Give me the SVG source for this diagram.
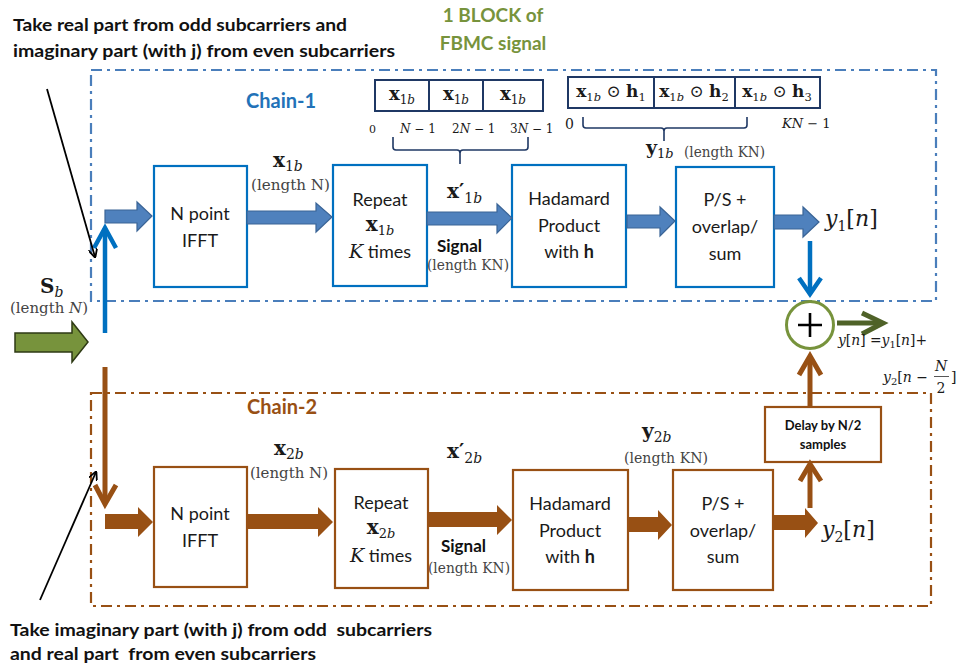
<svg xmlns="http://www.w3.org/2000/svg" width="961" height="669" viewBox="0 0 961 669">
  <style>
    .sans { font-family: Lato, "Open Sans", "Liberation Sans", sans-serif; }
    .lbl { font-family: Lato, "Open Sans", "Liberation Sans", sans-serif; font-size: 18px; fill: #1a1a1a; text-anchor: middle; }
    .note { font-family: Lato, "Open Sans", "Liberation Sans", sans-serif; font-size: 17px; font-weight: bold; fill: #111; white-space: pre; }
    .m { font-family: "DejaVu Serif", "Liberation Serif", serif; fill: #1a1a1a; }
    .mb { font-family: "DejaVu Serif", "Liberation Serif", serif; font-weight: bold; fill: #1a1a1a; }
    .len { font-family: "DejaVu Serif", "Liberation Serif", serif; font-size: 14px; fill: #444; }
    .it { font-style: italic; }
    .box1 { fill: #fff; stroke: #0070c0; stroke-width: 2.2; }
    .box2 { fill: #fff; stroke: #985014; stroke-width: 2.2; }
    .arr { fill: #fff; stroke: #1f3864; stroke-width: 2; }
    .brace { fill: none; stroke: #1f3864; stroke-width: 1.6; }
    .dash1 { fill: none; stroke: #4a7ebb; stroke-width: 2.2; stroke-dasharray: 11 5 3 5; }
    .dash2 { fill: none; stroke: #985014; stroke-width: 2.2; stroke-dasharray: 11 5 3 5; }
    .ba1 { fill: #4f81bd; stroke: #3a6496; stroke-width: 1.2; }
    .ba2 { fill: #985014; }
    .ln1 { fill: none; stroke: #0070c0; stroke-width: 4.5; }
    .ln2 { fill: none; stroke: #985014; stroke-width: 5; }
    .lng { fill: none; stroke: #4f6228; stroke-width: 5; }
    .thin { fill: none; stroke: #000; stroke-width: 1.8; }
  </style>
  <defs>
    <marker id="tip" viewBox="0 0 10 10" refX="9" refY="5" markerWidth="5" markerHeight="5" orient="auto">
      <path d="M0,0 L10,5 L0,10" fill="none" stroke="#000" stroke-width="2"/>
    </marker>
  </defs>

  <!-- notes and titles -->
  <g id="note-top">
    <text class="note" x="13" y="31" textLength="334" lengthAdjust="spacingAndGlyphs">Take real part from odd subcarriers and</text>
    <text class="note" x="13" y="57" textLength="382" lengthAdjust="spacingAndGlyphs">imaginary part (with j) from even subcarriers</text>
  </g>
  <g id="title">
    <text class="sans" x="493" y="22" font-size="19" font-weight="bold" fill="#77933c" text-anchor="middle">1 BLOCK of</text>
    <text class="sans" x="493" y="50" font-size="19" font-weight="bold" fill="#77933c" text-anchor="middle">FBMC signal</text>
  </g>
  <g id="note-bottom">
    <text class="note" x="10" y="636" textLength="422" lengthAdjust="spacingAndGlyphs">Take imaginary part (with j) from odd  subcarriers</text>
    <text class="note" x="10" y="660" textLength="306" lengthAdjust="spacingAndGlyphs">and real part  from even subcarriers</text>
  </g>

  <!-- chain frames -->
  <g id="chain-1">
    <rect class="dash1" x="91" y="70" width="845" height="231"/>
    <text class="sans" x="246" y="108" font-size="20" font-weight="bold" fill="#2272b8">Chain-1</text>
  </g>
  <g id="chain-2">
    <rect class="dash2" x="91" y="393" width="840" height="213"/>
    <text class="sans" x="247" y="414" font-size="20" font-weight="bold" fill="#985014">Chain-2</text>
  </g>

  <!-- repeated block layout -->
  <g id="array-x">
    <rect class="arr" x="375" y="80" width="168" height="31"/>
    <line class="arr" x1="429" y1="80" x2="429" y2="111"/>
    <line class="arr" x1="483" y1="80" x2="483" y2="111"/>
    <text class="m" x="402" y="100" font-size="18" text-anchor="middle"><tspan font-weight="bold">x</tspan><tspan font-size="12" dy="4">1<tspan class="it">b</tspan></tspan></text>
    <text class="m" x="456" y="100" font-size="18" text-anchor="middle"><tspan font-weight="bold">x</tspan><tspan font-size="12" dy="4">1<tspan class="it">b</tspan></tspan></text>
    <text class="m" x="513" y="100" font-size="18" text-anchor="middle"><tspan font-weight="bold">x</tspan><tspan font-size="12" dy="4">1<tspan class="it">b</tspan></tspan></text>
    <text class="m" x="369" y="133" font-size="11">0</text>
    <text class="m" x="400" y="133" font-size="12"><tspan class="it">N</tspan> − 1</text>
    <text class="m" x="452" y="133" font-size="12">2<tspan class="it">N</tspan> − 1</text>
    <text class="m" x="510" y="133" font-size="12">3<tspan class="it">N</tspan> − 1</text>
    <path class="brace" d="M393,137 V147 Q393,150 396,150 H457 Q460,150 460,153 V164 M460,153 Q460,150 463,150 H525 Q528,150 528,147 V137"/>
  </g>
  <g id="array-y">
    <rect class="arr" x="568" y="77" width="252" height="31"/>
    <line class="arr" x1="654" y1="77" x2="654" y2="108"/>
    <line class="arr" x1="735" y1="77" x2="735" y2="108"/>
    <text class="m" x="611" y="97" font-size="17" text-anchor="middle"><tspan font-weight="bold">x</tspan><tspan font-size="11.5" dy="4">1<tspan class="it">b</tspan></tspan><tspan dy="-4"> ⊙ </tspan><tspan font-weight="bold">h</tspan><tspan font-size="11.5" dy="4">1</tspan></text>
    <text class="m" x="694" y="97" font-size="17" text-anchor="middle"><tspan font-weight="bold">x</tspan><tspan font-size="11.5" dy="4">1<tspan class="it">b</tspan></tspan><tspan dy="-4"> ⊙ </tspan><tspan font-weight="bold">h</tspan><tspan font-size="11.5" dy="4">2</tspan></text>
    <text class="m" x="777" y="97" font-size="17" text-anchor="middle"><tspan font-weight="bold">x</tspan><tspan font-size="11.5" dy="4">1<tspan class="it">b</tspan></tspan><tspan dy="-4"> ⊙ </tspan><tspan font-weight="bold">h</tspan><tspan font-size="11.5" dy="4">3</tspan></text>
    <text class="m" x="565" y="129" font-size="14">0</text>
    <text class="m" x="782" y="128" font-size="13"><tspan class="it">KN</tspan> − 1</text>
    <path class="brace" d="M583,117 V125 Q583,128 586,128 H661 Q664,128 664,131 V141 M664,131 Q664,128 667,128 H744 Q747,128 747,125 V117"/>
    <text class="m" x="646" y="154" font-size="19"><tspan font-weight="bold">y</tspan><tspan font-size="13" dy="4">1<tspan class="it">b</tspan></tspan></text>
    <text class="len" x="684" y="157" textLength="81" lengthAdjust="spacingAndGlyphs">(length KN)</text>
  </g>

  <!-- chain-1 blocks -->
  <g id="ifft-1">
    <rect class="box1" x="154" y="166" width="93" height="121"/>
    <text class="lbl" x="200" y="220">N point</text>
    <text class="lbl" x="200" y="247">IFFT</text>
  </g>
  <g id="repeat-1">
    <rect class="box1" x="333" y="165" width="94" height="121"/>
    <text class="lbl" x="380" y="206">Repeat</text>
    <text class="m" x="380" y="231" font-size="20" text-anchor="middle"><tspan font-weight="bold">x</tspan><tspan font-size="13" dy="4">1<tspan class="it">b</tspan></tspan></text>
    <text class="lbl" x="380" y="258"><tspan class="m it" font-size="19">K</tspan> times</text>
  </g>
  <g id="hadamard-1">
    <rect class="box1" x="512" y="165" width="114" height="122"/>
    <text class="lbl" x="569" y="205">Hadamard</text>
    <text class="lbl" x="569" y="232">Product</text>
    <text class="lbl" x="569" y="258">with <tspan font-weight="bold">h</tspan></text>
  </g>
  <g id="ps-1">
    <rect class="box1" x="676" y="167" width="98" height="120"/>
    <text class="lbl" x="725" y="206">P/S +</text>
    <text class="lbl" x="725" y="233">overlap/</text>
    <text class="lbl" x="725" y="260">sum</text>
  </g>

  <!-- chain-2 blocks -->
  <g id="ifft-2">
    <rect class="box2" x="154" y="467" width="93" height="120"/>
    <text class="lbl" x="200" y="520">N point</text>
    <text class="lbl" x="200" y="547">IFFT</text>
  </g>
  <g id="repeat-2">
    <rect class="box2" x="335" y="469" width="93" height="119"/>
    <text class="lbl" x="381" y="509">Repeat</text>
    <text class="m" x="381" y="534" font-size="20" text-anchor="middle"><tspan font-weight="bold">x</tspan><tspan font-size="13" dy="4">2<tspan class="it">b</tspan></tspan></text>
    <text class="lbl" x="381" y="562"><tspan class="m it" font-size="19">K</tspan> times</text>
  </g>
  <g id="hadamard-2">
    <rect class="box2" x="513" y="470" width="115" height="120"/>
    <text class="lbl" x="570" y="510">Hadamard</text>
    <text class="lbl" x="570" y="537">Product</text>
    <text class="lbl" x="570" y="563">with <tspan font-weight="bold">h</tspan></text>
  </g>
  <g id="ps-2">
    <rect class="box2" x="673" y="470" width="100" height="120"/>
    <text class="lbl" x="723" y="510">P/S +</text>
    <text class="lbl" x="723" y="537">overlap/</text>
    <text class="lbl" x="723" y="563">sum</text>
  </g>
  <g id="delay">
    <rect class="box2" x="765" y="407" width="116" height="55"/>
    <text class="sans" x="823" y="430" font-size="13" font-weight="bold" fill="#111" text-anchor="middle">Delay by N/2</text>
    <text class="sans" x="823" y="449" font-size="13" font-weight="bold" fill="#111" text-anchor="middle">samples</text>
  </g>
  <g id="adder">
    <circle cx="810" cy="325" r="23.5" fill="#fff" stroke="#77933c" stroke-width="3"/>
    <path d="M810,313 V337 M798,325 H822" stroke="#000" stroke-width="2.6"/>
  </g>

  <!-- connectors -->
  <g id="connectors">
    <!-- input -->
    <path fill="#77933c" stroke="#2e3a14" stroke-width="1.5" d="M15,333 H72 V322 L88,342 L72,362 V352 H15 Z"/>
    <line class="ln1" x1="105" y1="333" x2="105" y2="228"/>
    <path class="ln1" d="M94,248 L105,228 L116,248"/>
    <line class="ln2" x1="105" y1="367" x2="105" y2="503"/>
    <path class="ln2" d="M95,485 L105,504 L116,485"/>
    <line class="thin" x1="47" y1="89" x2="95" y2="257" marker-end="url(#tip)"/>
    <line class="thin" x1="40" y1="600" x2="96" y2="472" marker-end="url(#tip)"/>

    <!-- chain-1 block arrows -->
    <path class="ba1" d="M105,210 H137 V202 L152,216 L137,231 V223 H105 Z"/>
    <path class="ba1" d="M247,211 H316 V203 L332,217 L316,232 V224 H247 Z"/>
    <path class="ba1" d="M427,212 H497 V204 L512,218 L497,233 V225 H427 Z"/>
    <path class="ba1" d="M627,215 H660 V207 L675,221 L660,236 V228 H627 Z"/>
    <path class="ba1" d="M774,215 H803 V207 L819,222 L803,237 V229 H774 Z"/>

    <!-- chain-2 block arrows -->
    <path class="ba2" d="M105,514 H138 V507 L153,522 L138,537 V529 H105 Z"/>
    <path class="ba2" d="M247,514 H318 V507 L333,522 L318,537 V529 H247 Z"/>
    <path class="ba2" d="M428,512 H497 V505 L512,520 L497,535 V527 H428 Z"/>
    <path class="ba2" d="M628,517 H658 V510 L672,525 L658,540 V532 H628 Z"/>
    <path class="ba2" d="M773,515 H805 V508 L818,523 L805,538 V530 H773 Z"/>

    <!-- summation paths -->
    <line class="ln1" x1="810" y1="241" x2="810" y2="292"/>
    <path class="ln1" d="M799,278 L810,294 L821,278"/>
    <line class="ln2" x1="810" y1="508" x2="810" y2="465"/>
    <path class="ln2" d="M800,481 L810,464 L821,481"/>
    <line class="ln2" x1="810" y1="407" x2="810" y2="357"/>
    <path class="ln2" d="M799,375 L810,356 L821,375"/>
    <line class="lng" x1="837" y1="323" x2="882" y2="323"/>
    <path class="lng" d="M862,313 L883,323 L862,334"/>
  </g>

  <!-- signal labels -->
  <g id="labels">
    <text class="mb" x="40" y="293" font-size="20">S<tspan font-weight="normal" class="it" font-size="14" dy="4">b</tspan></text>
    <text class="len" x="10" y="313" textLength="78" lengthAdjust="spacingAndGlyphs">(length <tspan class="it">N</tspan>)</text>

    <text class="m" x="273" y="167" font-size="20"><tspan font-weight="bold">x</tspan><tspan font-size="14" dy="4">1<tspan class="it">b</tspan></tspan></text>
    <text class="len" x="251" y="190" textLength="79" lengthAdjust="spacingAndGlyphs">(length N)</text>
    <text class="m" x="447" y="198" font-size="20"><tspan font-weight="bold">x′</tspan><tspan font-size="14" dy="5">1<tspan class="it">b</tspan></tspan></text>
    <text class="sans" x="437" y="252" font-size="17" font-weight="bold" fill="#111">Signal</text>
    <text class="len" x="427" y="270" textLength="82" lengthAdjust="spacingAndGlyphs">(length KN)</text>
    <text class="m it" x="825" y="226" font-size="22">y<tspan font-style="normal" font-size="14" dy="5">1</tspan><tspan font-style="normal" dy="-5">[</tspan>n<tspan font-style="normal">]</tspan></text>

    <text class="m" x="274" y="455" font-size="20"><tspan font-weight="bold">x</tspan><tspan font-size="14" dy="4">2<tspan class="it">b</tspan></tspan></text>
    <text class="len" x="250" y="478" textLength="78" lengthAdjust="spacingAndGlyphs">(length N)</text>
    <text class="m" x="447" y="458" font-size="20"><tspan font-weight="bold">x′</tspan><tspan font-size="14" dy="5">2<tspan class="it">b</tspan></tspan></text>
    <text class="sans" x="441" y="552" font-size="17" font-weight="bold" fill="#111">Signal</text>
    <text class="len" x="428" y="573" textLength="82" lengthAdjust="spacingAndGlyphs">(length KN)</text>
    <text class="m" x="642" y="438" font-size="20"><tspan font-weight="bold">y</tspan><tspan font-size="14" dy="4">2<tspan class="it">b</tspan></tspan></text>
    <text class="len" x="624" y="463" textLength="84" lengthAdjust="spacingAndGlyphs">(length KN)</text>
    <text class="m it" x="822" y="537" font-size="22">y<tspan font-style="normal" font-size="14" dy="5">2</tspan><tspan font-style="normal" dy="-5">[</tspan>n<tspan font-style="normal">]</tspan></text>

    <text class="m" x="838" y="345" font-size="14" fill="#444" textLength="89" lengthAdjust="spacingAndGlyphs"><tspan class="it">y</tspan>[<tspan class="it">n</tspan>] =<tspan class="it">y</tspan><tspan font-size="10" dy="3">1</tspan><tspan dy="-3">[</tspan><tspan class="it">n</tspan>]+</text>
    <text class="m" x="883" y="382" font-size="14" fill="#444"><tspan class="it">y</tspan><tspan font-size="10" dy="3">2</tspan><tspan dy="-3">[</tspan><tspan class="it">n</tspan> −</text>
    <text class="m it" x="941" y="371" font-size="14" fill="#444" text-anchor="middle">N</text>
    <line x1="934" y1="376.5" x2="949" y2="376.5" stroke="#444" stroke-width="0.9"/>
    <text class="m" x="941" y="393" font-size="14" fill="#444" text-anchor="middle">2</text>
    <text class="m" x="951" y="382" font-size="14" fill="#444">]</text>
  </g>
</svg>
